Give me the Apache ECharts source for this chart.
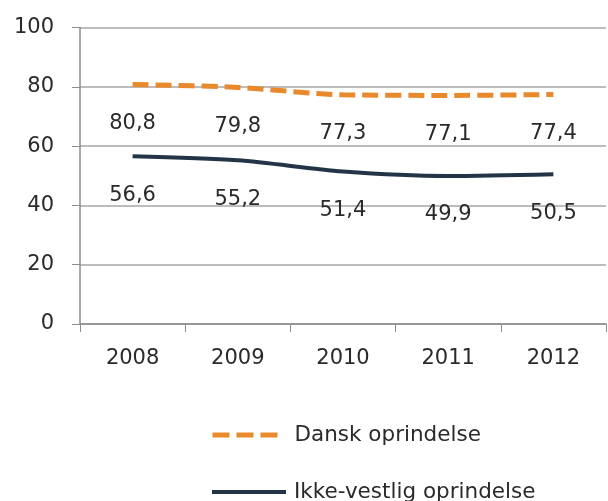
<!DOCTYPE html>
<html><head><meta charset="utf-8">
<script src="https://cdn.jsdelivr.net/npm/echarts@6/dist/echarts.min.js"></script>
<style>html,body{margin:0;padding:0;background:#fff}#c{width:608px;height:501px}</style>
</head><body><div id="c"></div>
<script>
const categories = ['2008', '2009', '2010', '2011', '2012'];
const dansk = [80.8, 79.8, 77.3, 77.1, 77.4];
const ikkeVestlig = [56.6, 55.2, 51.4, 49.9, 50.5];
const seriesNames = ['Dansk oprindelse', 'Ikke-vestlig oprindelse'];

const FONT = 'DejaVu Sans';
const FS = 21;
const TXT = '#2a2a2a';
const fmt = p => String(p.value).replace('.', ',');
const chart = echarts.init(document.getElementById('c'));
chart.setOption({
  animation: false,
  textStyle: { fontFamily: FONT },
  grid: { left: 80, right: 2, top: 27.5, bottom: 177 },
  legend: [
    { data: [seriesNames[0]], left: 210, top: 424, padding: 0, itemWidth: 66, itemHeight: 14, itemGap: 0,
      itemStyle: { opacity: 0 },
      lineStyle: { width: 5, type: [17, 7] },
      textStyle: { fontFamily: FONT, fontSize: 21.5, color: TXT, padding: [0, 0, 0, 11] } },
    { data: [seriesNames[1]], left: 210, top: 481, padding: 0, itemWidth: 74, itemHeight: 14, itemGap: 0,
      itemStyle: { opacity: 0 },
      lineStyle: { width: 4 },
      textStyle: { fontFamily: FONT, fontSize: 21.5, color: TXT, padding: [0, 0, 0, 3] } }
  ],
  xAxis: {
    type: 'category', data: categories, boundaryGap: true,
    axisLine: { lineStyle: { color: '#8c8c8c', width: 1.5 } },
    axisTick: { show: true, length: 8, lineStyle: { color: '#8c8c8c' } },
    axisLabel: { fontFamily: FONT, fontSize: FS, color: TXT, margin: 24 }
  },
  yAxis: {
    type: 'value', min: 0, max: 100, interval: 20,
    axisLine: { show: true, lineStyle: { color: '#8c8c8c', width: 1.5 } },
    axisTick: { show: true, length: 8, lineStyle: { color: '#8c8c8c' } },
    splitLine: { lineStyle: { color: '#a6a6a6', width: 1.5 } },
    axisLabel: { fontFamily: FONT, fontSize: FS, color: TXT, margin: 26 }
  },
  series: [
    { name: seriesNames[0], type: 'line', data: dansk, smooth: 0.3,
      symbol: 'circle', symbolSize: 1, showSymbol: true,
      itemStyle: { color: '#E8892B', opacity: 0 },
      lineStyle: { color: '#E8892B', width: 5, type: [16, 7] },
      label: { show: true, position: 'bottom', distance: 28, formatter: fmt,
               fontFamily: FONT, fontSize: FS, color: TXT, opacity: 1 } },
    { name: seriesNames[1], type: 'line', data: ikkeVestlig, smooth: 0.3,
      symbol: 'circle', symbolSize: 1, showSymbol: true,
      itemStyle: { color: '#243447', opacity: 0 },
      lineStyle: { color: '#243447', width: 4 },
      label: { show: true, position: 'bottom', distance: 28, formatter: fmt,
               fontFamily: FONT, fontSize: FS, color: TXT, opacity: 1 } }
  ]
});
</script></body></html>
